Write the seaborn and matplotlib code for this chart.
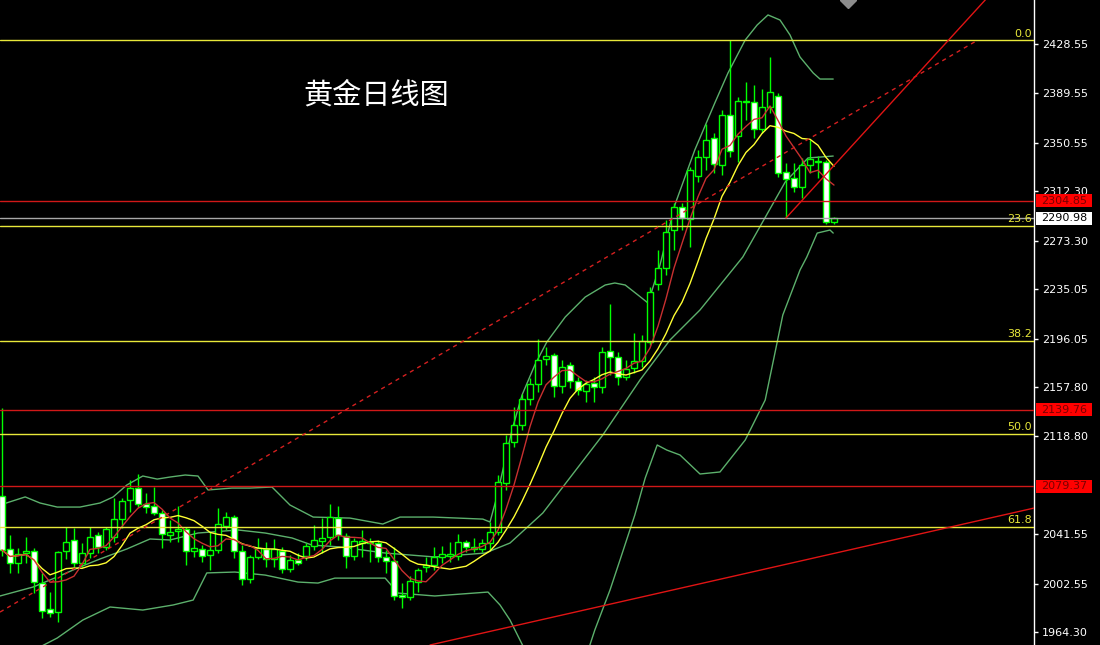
import numpy as np
import pandas as pd
import matplotlib
matplotlib.use("Agg")
import matplotlib.pyplot as plt
import matplotlib.transforms as mtransforms
from matplotlib.patches import Rectangle
import seaborn as sns

# daily gold candles
opens = [2071.8, 2029.9, 2018.9, 2026.8, 2028.3, 2003.1, 1982.5, 1980.2, 2028.3, 2037.0,
         2018.9, 2026.8, 2041.0, 2031.5, 2039.4, 2053.6, 2068.6, 2078.1, 2065.4, 2063.9,
         2058.3, 2041.0, 2044.1, 2045.7, 2028.3, 2029.9, 2025.2, 2029.1, 2048.1, 2055.2,
         2028.3, 2006.2, 2023.6, 2029.9, 2022.0, 2028.3, 2014.1, 2021.2, 2024.4, 2032.3,
         2036.2, 2039.4, 2054.4, 2040.2, 2024.4, 2034.7, 2034.7, 2034.7, 2023.6, 2020.4,
         1993.6, 1992.0, 2003.9, 2015.7, 2017.3, 2023.6, 2024.4, 2024.4, 2035.4, 2029.9,
         2029.9, 2034.7, 2043.3, 2082.0, 2114.3, 2127.8, 2148.3, 2160.1, 2179.9, 2183.0,
         2158.5, 2175.1, 2162.5, 2154.6, 2160.9, 2157.8, 2186.2, 2181.4, 2165.7, 2172.8,
         2178.3, 2193.3, 2239.1, 2251.7, 2281.7, 2299.9, 2290.4, 2324.3, 2339.3, 2354.4,
         2333.0, 2372.5, 2355.6, 2382.8, 2382.8, 2361.5, 2378.8, 2387.5, 2327.5, 2322.8,
         2315.7, 2333.0, 2335.4, 2335.4, 2288.0]
highs = [2141.2, 2041.0, 2030.7, 2039.4, 2030.7, 2011.0, 1996.0, 2028.3, 2047.3, 2046.5,
         2034.7, 2047.3, 2043.3, 2047.3, 2070.2, 2070.2, 2084.4, 2089.1, 2074.1, 2078.9,
         2060.7, 2052.8, 2063.9, 2047.3, 2044.9, 2033.1, 2043.3, 2062.3, 2059.1, 2056.8,
         2033.1, 2025.2, 2038.6, 2035.4, 2037.8, 2031.5, 2025.2, 2026.8, 2034.7, 2048.9,
         2054.4, 2065.4, 2063.9, 2042.5, 2038.6, 2044.9, 2038.6, 2037.0, 2029.1, 2031.5,
         2003.1, 2008.6, 2014.9, 2023.6, 2031.5, 2032.3, 2035.4, 2041.8, 2037.0, 2038.6,
         2037.8, 2051.2, 2088.3, 2119.9, 2142.0, 2152.2, 2164.9, 2195.7, 2189.3, 2184.6,
         2179.1, 2177.5, 2165.7, 2163.3, 2165.7, 2189.3, 2223.3, 2185.4, 2179.1, 2200.4,
         2198.8, 2236.7, 2265.9, 2289.6, 2303.0, 2303.0, 2331.5, 2344.9, 2365.4, 2358.3,
         2376.5, 2431.7, 2386.7, 2398.6, 2396.2, 2393.0, 2418.3, 2389.9, 2334.6, 2334.6,
         2338.6, 2352.8, 2340.1, 2337.0, 2292.0]
lows = [2024.4, 2011.0, 2011.0, 2018.9, 1995.2, 1975.4, 1976.2, 1972.3, 2022.0, 2014.9,
        2015.7, 2022.8, 2026.8, 2029.1, 2035.4, 2046.5, 2059.1, 2063.1, 2058.3, 2056.8,
        2030.7, 2035.4, 2035.4, 2017.3, 2023.6, 2019.6, 2013.3, 2026.8, 2044.9, 2022.8,
        2001.5, 2003.1, 2022.0, 2015.7, 2015.7, 2011.0, 2011.8, 2017.3, 2021.2, 2029.1,
        2026.8, 2033.1, 2037.0, 2014.9, 2021.2, 2023.6, 2019.6, 2019.6, 2011.0, 1989.6,
        1983.3, 1989.6, 1996.0, 2011.8, 2013.3, 2018.9, 2019.6, 2021.2, 2027.5, 2027.5,
        2027.5, 2029.1, 2041.0, 2076.5, 2110.4, 2123.8, 2143.6, 2153.8, 2175.1, 2149.9,
        2153.0, 2157.0, 2151.4, 2145.9, 2145.9, 2153.0, 2167.2, 2159.3, 2163.3, 2168.8,
        2173.6, 2190.9, 2234.3, 2246.2, 2265.9, 2281.7, 2268.3, 2319.6, 2329.1, 2326.7,
        2325.1, 2339.3, 2335.4, 2368.6, 2354.4, 2358.3, 2374.1, 2323.6, 2291.2, 2311.7,
        2307.0, 2326.7, 2322.8, 2286.5, 2286.5]
closes = [2029.1, 2018.9, 2026.0, 2028.3, 2003.9, 1981.0, 1979.4, 2027.5, 2035.4, 2018.9,
          2026.8, 2039.4, 2031.5, 2045.7, 2053.6, 2067.8, 2078.1, 2065.4, 2063.1, 2058.3,
          2041.8, 2043.3, 2045.7, 2028.3, 2030.7, 2024.4, 2029.1, 2049.7, 2055.2, 2028.3,
          2006.2, 2023.6, 2030.7, 2022.0, 2029.9, 2014.1, 2021.2, 2018.9, 2032.3, 2037.0,
          2038.6, 2055.2, 2041.0, 2024.4, 2036.2, 2036.2, 2035.4, 2023.6, 2020.4, 1992.8,
          1992.0, 2004.7, 2013.3, 2017.3, 2023.6, 2026.0, 2026.0, 2035.4, 2031.5, 2031.5,
          2034.7, 2043.3, 2082.8, 2113.6, 2127.8, 2148.3, 2160.1, 2179.1, 2182.2, 2158.5,
          2173.6, 2162.5, 2155.4, 2160.1, 2157.8, 2185.4, 2181.4, 2165.7, 2172.0, 2178.3,
          2194.1, 2232.8, 2251.7, 2280.1, 2299.9, 2291.2, 2329.1, 2339.3, 2352.8, 2333.8,
          2372.5, 2344.1, 2383.6, 2383.6, 2361.5, 2378.8, 2390.7, 2326.7, 2322.0, 2315.7,
          2333.0, 2337.8, 2336.2, 2288.0, 2290.98]

# bollinger bands (bar index, price)
bb_upper_x = [-0.25, 2.9, 4.75, 6.9, 9.75, 12.25, 13.9, 15.6, 17.6, 19.4, 21.0, 22.9, 24.5,
              25.75, 28.75, 31.0, 33.75, 36.0, 38.9, 43.5, 47.6, 49.75, 53.9, 60.1, 61.0,
              61.75, 62.75, 63.75, 65.0, 66.6, 68.1, 70.4, 72.9, 75.4, 76.6, 77.9, 79.5,
              80.75, 82.25, 84.1, 86.6, 89.1, 90.75, 92.9, 94.4, 95.75, 97.25, 98.5, 99.75,
              101.4, 102.25, 103.9]
bb_upper = [2064.6, 2071.0, 2066.2, 2063.0, 2063.0, 2066.2, 2071.0, 2080.4, 2087.5, 2085.1,
            2086.7, 2088.3, 2087.5, 2076.5, 2078.0, 2078.0, 2078.8, 2064.6, 2055.1, 2054.3,
            2049.6, 2055.1, 2055.1, 2053.5, 2051.2, 2068.6, 2096.2, 2123.8, 2151.4, 2175.1,
            2193.3, 2213.0, 2228.8, 2238.3, 2239.9, 2238.3, 2230.4, 2224.1, 2254.1, 2301.4,
            2344.9, 2382.0, 2405.7, 2431.7, 2443.6, 2451.5, 2447.5, 2435.7, 2418.3, 2405.7,
            2400.9, 2400.9]
bb_mid_x = [-0.25, 3.9, 6.9, 9.75, 12.25, 15.6, 18.5, 21.0, 24.5, 29.5, 32.9, 36.25, 38.75,
            42.25, 47.9, 54.1, 60.4, 63.5, 67.6, 70.1, 75.1, 79.75, 83.5, 87.25, 92.6, 97.9,
            100.75, 103.9]
bb_mid = [1992.8, 1999.9, 2007.8, 2015.7, 2022.0, 2029.9, 2037.8, 2037.0, 2042.5, 2044.9,
          2042.5, 2038.6, 2033.0, 2031.5, 2026.7, 2023.6, 2026.7, 2034.6, 2058.3, 2078.8,
          2119.9, 2163.3, 2194.9, 2218.6, 2260.4, 2319.6, 2338.6, 2340.1]
bb_lower_x = [3.5, 6.9, 10.1, 13.5, 17.6, 21.4, 23.9, 25.6, 29.1, 32.9, 37.0, 39.5, 41.6,
              47.9, 49.5, 54.1, 60.75, 62.25, 63.5, 64.75, 66.0, 68.25, 70.4, 72.25, 74.1,
              76.0, 77.25, 79.1, 80.4, 81.9, 83.1, 84.75, 87.25, 89.75, 92.9, 95.4, 97.6,
              99.75, 100.6, 101.9, 103.5, 103.9]
bb_lower = [1948.5, 1959.6, 1973.8, 1984.1, 1981.7, 1985.7, 1989.6, 2011.0, 2011.7, 2009.3,
            2003.8, 2003.0, 2006.9, 2006.9, 1995.1, 1992.8, 1995.9, 1985.7, 1973.8, 1958.0,
            1942.2, 1918.5, 1910.7, 1930.4, 1965.9, 1997.5, 2021.2, 2056.7, 2085.9, 2112.0,
            2108.0, 2104.1, 2089.1, 2090.7, 2115.9, 2147.5, 2214.6, 2250.1, 2260.4, 2279.3,
            2281.7, 2279.3]

fib_levels = [0.0, 23.6, 38.2, 50.0, 61.8]
fib_high = 2431.7
fib_low = 1809.7
red_levels = [2304.85, 2139.76, 2079.37]
last_price = 2290.98
price_ticks = [2428.55, 2389.55, 2350.55, 2312.30, 2273.30, 2235.05, 2196.05,
               2157.80, 2118.80, 2041.55, 2002.55, 1964.30]
# trend lines: (bar index, price) anchors
trend_dashed = [(-0.25, 1980.1), (121.6, 2430.3)]
trend_steep = [(98.0, 2291.2), (123.0, 2464.0)]
trend_low = [(53.5, 1954.1), (129.0, 2062.2)]

sns.set_theme(style="dark")
plt.rcParams["font.family"] = ["DejaVu Sans"]

df = pd.DataFrame({"open": opens, "high": highs, "low": lows, "close": closes})
df["idx"] = np.arange(len(df))
df["ma5"] = df["close"].rolling(5, min_periods=1).mean()
df["ma10"] = df["close"].rolling(10, min_periods=1).mean()

W, H = 1100, 645
axis_px = 1034
fig = plt.figure(figsize=(W / 100, H / 100), dpi=100, facecolor="black")
ax = fig.add_axes([0, 0, axis_px / W, 1])
ax.set_facecolor("black")
ax.set_xlim(-0.25, 129)
ax.set_ylim(1954.1, 2463.3)
ax.grid(False)

green = "#00ff00"
band_col = "#5cb06c"

# bands and averages
for xs, ys in [(bb_upper_x, bb_upper), (bb_mid_x, bb_mid), (bb_lower_x, bb_lower)]:
    sns.lineplot(x=xs, y=ys, ax=ax, color=band_col, lw=1, zorder=2)
sns.lineplot(data=df, x="idx", y="ma10", ax=ax, color="#ffff33", lw=1, zorder=5)
sns.lineplot(data=df, x="idx", y="ma5", ax=ax, color="#c83030", lw=1, zorder=5)

# candles
bear = df["close"] < df["open"]
body_low = np.minimum(df["open"], df["close"])
body_h = np.maximum(np.abs(df["close"] - df["open"]), 0.6)
ax.vlines(df["idx"], df["low"], df["high"], color=green, lw=1, zorder=3)
ax.bar(df["idx"], body_h, bottom=body_low, width=0.66,
       color=np.where(bear, "white", "black"), edgecolor=green, linewidth=1, zorder=4)

# horizontal levels
trans = mtransforms.blended_transform_factory(ax.transAxes, ax.transData)
for lvl in fib_levels:
    p = fib_high - (fib_high - fib_low) * lvl / 100
    ax.axhline(p, color="#e8e83a", lw=1, zorder=6)
    ax.text(1032 / axis_px, p + 1.2, f"{lvl:.1f}", transform=trans, ha="right",
            va="bottom", color="#e8e83a", fontsize=8, zorder=7)
for p in red_levels:
    ax.axhline(p, color="#d01818", lw=1, zorder=6)
ax.axhline(last_price, color="#a8a8a8", lw=1, zorder=6)

# trend lines
(x0, y0), (x1, y1) = trend_dashed
ax.plot([x0, x1], [y0, y1], color="#d42020", lw=1, ls=(0, (3, 3)), zorder=6)
for (x0, y0), (x1, y1) in [trend_steep, trend_low]:
    ax.plot([x0, x1], [y0, y1], color="#e01414", lw=1, zorder=6)

# price axis on the right
for s in ["top", "left", "bottom"]:
    ax.spines[s].set_visible(False)
ax.spines["right"].set_color("white")
ax.spines["right"].set_linewidth(1)
ax.set_xticks([])
ax.yaxis.tick_right()
ax.set_yticks(price_ticks)
ax.set_yticklabels([f"{t:.2f}" for t in price_ticks])
ax.tick_params(axis="y", colors="white", labelcolor="white", labelsize=8,
               length=3, width=1, pad=2.5, right=True)
ax.set_xlabel("")
ax.set_ylabel("")

box_h = 13 * (2463.3 - 1954.1) / H
for p, fc, tc in [(red_levels[0], "#ff0000", "#7a0000"), (red_levels[1], "#ff0000", "#7a0000"),
                  (red_levels[2], "#ff0000", "#7a0000"), (last_price, "white", "black")]:
    ax.add_patch(Rectangle((1036 / axis_px, p - box_h / 2), 56 / axis_px, box_h,
                           transform=trans, facecolor=fc, edgecolor="none",
                           clip_on=False, zorder=9))
    ax.text(1041 / axis_px, p, f"{p:.2f}", transform=trans, ha="left", va="center",
            color=tc, fontsize=8, zorder=10, clip_on=False)

# little shift marker at the top
ax.plot([105.75], [2463.3], marker="D", color="#8c8c8c", ms=8, clip_on=False, zorder=8)

fig.text(303 / W, 1 - 96 / H, "黄金日线图", color="white", fontsize=21,
         family=["Noto Sans CJK SC", "DejaVu Sans"], ha="left", va="center")

fig.savefig("out.png", dpi=100, facecolor="black")
